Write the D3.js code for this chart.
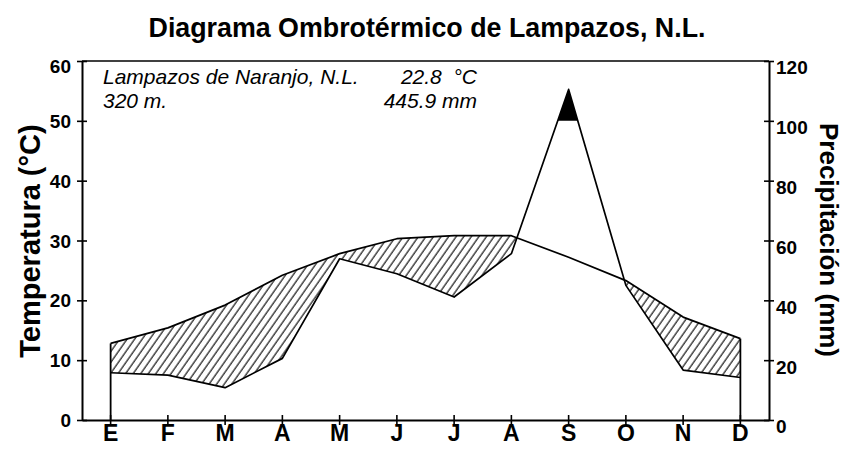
<!DOCTYPE html>
<html><head><meta charset="utf-8">
<script src="https://cdn.jsdelivr.net/npm/d3@7"></script>
<style>
body{margin:0;background:#fff}
svg{display:block}
text{font-family:Arial,"Liberation Sans",Helvetica,sans-serif;fill:#000}
</style>
</head><body>
<svg id="chart" width="847" height="468"></svg>
<script>
// ---- data ----
const months = ["E","F","M","A","M","J","J","A","S","O","N","D"];
const temperature = [12.8,15.4,19.2,24.2,27.8,30.3,30.8,30.8,27.2,23.3,17.2,13.6];
const precipitation = [15.8,15.0,10.8,20.6,53.9,48.9,41.1,55.6,110.5,45.0,16.7,14.2];
const tempTicks = [0,10,20,30,40,50,60];
const precTicks = [0,20,40,60,80,100,120];
const titleText = "Diagrama Ombrotérmico de Lampazos, N.L.";
const stationText = "Lampazos de Naranjo, N.L.";
const meanTempText = "22.8  °C";
const altitudeText = "320 m.";
const totalPrecText = "445.9 mm";
const leftLabel = "Temperatura (°C)";
const rightLabel = "Precipitación (mm)";

// ---- layout ----
const L = 82, R = 769, T = 61, B = 420;
const svg = d3.select("#chart");
const idx = d3.range(months.length);
const x = d3.scaleBand().domain(idx).range([L, R]);
const cx = i => x(i) + x.bandwidth()/2;
const yT = d3.scaleLinear().domain([0,60]).range([B, T]);
const yP = d3.scaleLinear().domain([0,120]).range([B, T]);

const defs = svg.append("defs");
const pat = defs.append("pattern").attr("id","hatch")
  .attr("patternUnits","userSpaceOnUse").attr("width",6.2).attr("height",10)
  .attr("patternTransform","rotate(35)");
pat.append("line").attr("x1",1).attr("y1",0).attr("x2",1).attr("y2",10)
  .attr("stroke","#000").attr("stroke-width",1.1);

const areaBelowTemp = d3.area().x((d,i)=>cx(i)).y0(B).y1(d=>yT(d));
defs.append("clipPath").attr("id","belowTemp").append("path").attr("d", areaBelowTemp(temperature));
defs.append("clipPath").attr("id","above100").append("rect")
  .attr("x",0).attr("y",0).attr("width",847).attr("height",yP(100));

// hatched dry period: above precipitation line and below temperature line
const areaAbovePrec = d3.area().x((d,i)=>cx(i)).y0(d=>yP(d)).y1(T);
svg.append("path").attr("d", areaAbovePrec(precipitation))
  .attr("fill","url(#hatch)").attr("clip-path","url(#belowTemp)");

// black area above 100 mm
const areaPrec = d3.area().x((d,i)=>cx(i)).y0(B).y1(d=>yP(d));
svg.append("path").attr("d", areaPrec(precipitation))
  .attr("fill","#000").attr("clip-path","url(#above100)");

// lines
const lineT = d3.line().x((d,i)=>cx(i)).y(d=>yT(d));
const lineP = d3.line().x((d,i)=>cx(i)).y(d=>yP(d));
svg.append("path").attr("d", lineT(temperature)).attr("fill","none").attr("stroke","#000").attr("stroke-width",1.7).attr("stroke-linejoin","round");
svg.append("path").attr("d", lineP(precipitation)).attr("fill","none").attr("stroke","#000").attr("stroke-width",1.7).attr("stroke-linejoin","round");

// closing verticals at first and last month
[0, months.length-1].forEach(i=>{
  const top = Math.min(yT(temperature[i]), yP(precipitation[i]));
  svg.append("line").attr("x1",cx(i)).attr("x2",cx(i)).attr("y1",B).attr("y2",top)
    .attr("stroke","#000").attr("stroke-width",1.8);
});

// top frame line
svg.append("line").attr("x1",L).attr("x2",R).attr("y1",T).attr("y2",T).attr("stroke","#000").attr("stroke-width",1.5);

// axes
const gL = svg.append("g").attr("transform",`translate(${L},0)`)
  .call(d3.axisLeft(yT).tickValues(tempTicks).tickSize(5).tickSizeOuter(0).tickFormat(d3.format("d")));
gL.selectAll(".tick line").attr("x1",-5).attr("x2",5);
gL.selectAll(".tick text").attr("x",-11).attr("dy",(d)=> d===60 ? "0.6em" : "0.35em")
  .style("font-size","19px").style("font-weight","bold");

const gR = svg.append("g").attr("transform",`translate(${R},0)`)
  .call(d3.axisRight(yP).tickValues(precTicks).tickSize(5).tickSizeOuter(0).tickFormat(d3.format("d")));
gR.selectAll(".tick line").attr("x1",-5).attr("x2",5);
gR.selectAll(".tick text").attr("x",7).attr("dy","0.68em")
  .style("font-size","19px").style("font-weight","bold");

const gB = svg.append("g").attr("transform",`translate(0,${B})`)
  .call(d3.axisBottom(x).tickSize(5).tickSizeOuter(0).tickFormat(i=>months[i]));
gB.selectAll(".tick line").attr("y1",-5).attr("y2",5);
gB.selectAll(".tick text").attr("y",21).attr("dy",null)
  .style("font-size","23px").style("font-weight","bold");

svg.selectAll(".domain").attr("stroke","#000").attr("stroke-width",2);
svg.selectAll(".tick line").attr("stroke","#000").attr("stroke-width",1.6);

// texts
svg.append("text").attr("x",427).attr("y",37).attr("text-anchor","middle")
  .style("font-size","26.8px").style("font-weight","bold").text(titleText);
svg.append("text").attr("x",103).attr("y",84).style("font-size","21px").style("font-style","italic").text(stationText);
svg.append("text").attr("x",477).attr("y",84).attr("text-anchor","end").style("white-space","pre").style("font-size","21px").style("font-style","italic").text(meanTempText);
svg.append("text").attr("x",103).attr("y",108).style("font-size","21px").style("font-style","italic").text(altitudeText);
svg.append("text").attr("x",477).attr("y",108).attr("text-anchor","end").style("font-size","21px").style("font-style","italic").text(totalPrecText);

svg.append("text").attr("transform","translate(40,241) rotate(-90)").attr("text-anchor","middle")
  .style("font-size","29px").style("font-weight","bold").text(leftLabel);
svg.append("text").attr("transform","translate(820,240) rotate(90)").attr("text-anchor","middle")
  .style("font-size","26px").style("font-weight","bold").text(rightLabel);
</script>
</body></html>
